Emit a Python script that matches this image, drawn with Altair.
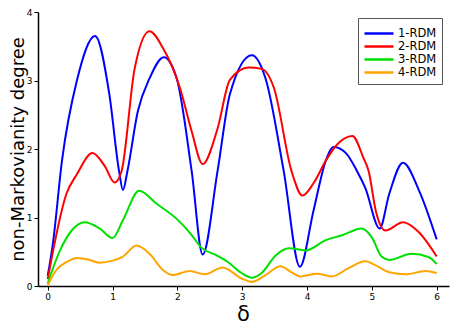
import altair as alt
import pandas as pd

# 1-RDM
x1 = [0.0, 0.08, 0.22, 0.45, 0.73, 0.95, 1.1, 1.16, 1.23, 1.39, 1.57, 1.79, 1.99, 2.22, 2.39, 2.62, 2.81, 3.15, 3.36, 3.64, 3.89, 4.1, 4.29, 4.41, 4.6, 4.77, 4.9, 5.12, 5.27, 5.48, 5.73, 6.0]
y1 = [0.15, 0.62, 1.83, 3.0, 3.65, 2.8, 1.68, 1.40, 1.68, 2.55, 3.03, 3.34, 3.03, 1.68, 0.46, 1.68, 2.8, 3.37, 3.03, 1.68, 0.28, 1.1, 1.83, 2.03, 1.94, 1.68, 1.43, 0.84, 1.35, 1.8, 1.39, 0.68]
# 2-RDM
x2 = [0.0, 0.29, 0.45, 0.69, 0.88, 1.03, 1.14, 1.34, 1.57, 1.78, 2.04, 2.22, 2.39, 2.62, 2.81, 3.1, 3.3, 3.49, 3.76, 3.93, 4.1, 4.29, 4.44, 4.7, 4.87, 4.95, 5.06, 5.21, 5.48, 5.73, 6.0]
y2 = [0.1, 1.35, 1.63, 1.94, 1.75, 1.51, 1.68, 3.17, 3.72, 3.47, 2.89, 2.26, 1.78, 2.3, 3.01, 3.19, 3.17, 2.89, 1.68, 1.32, 1.5, 1.83, 2.04, 2.19, 1.87, 1.68, 1.1, 0.81, 0.93, 0.78, 0.43]
# 3-RDM
x3 = [0.0, 0.19, 0.37, 0.57, 0.8, 1.0, 1.16, 1.41, 1.68, 1.99, 2.19, 2.37, 2.6, 2.78, 2.99, 3.15, 3.3, 3.52, 3.72, 3.98, 4.29, 4.54, 4.84, 5.0, 5.15, 5.27, 5.61, 5.88, 6.0]
y3 = [0.04, 0.52, 0.81, 0.93, 0.84, 0.70, 0.96, 1.39, 1.2, 0.98, 0.78, 0.56, 0.45, 0.35, 0.19, 0.12, 0.19, 0.45, 0.55, 0.52, 0.67, 0.74, 0.84, 0.71, 0.43, 0.38, 0.47, 0.42, 0.32]
# 4-RDM
x4 = [0.0, 0.13, 0.29, 0.45, 0.65, 0.8, 1.0, 1.16, 1.37, 1.57, 1.78, 1.93, 2.19, 2.42, 2.7, 2.99, 3.15, 3.36, 3.59, 3.76, 3.9, 4.15, 4.38, 4.64, 4.9, 5.06, 5.27, 5.52, 5.83, 6.0]
y4 = [0.01, 0.23, 0.35, 0.41, 0.38, 0.34, 0.37, 0.43, 0.59, 0.47, 0.23, 0.16, 0.22, 0.17, 0.27, 0.11, 0.06, 0.16, 0.29, 0.2, 0.14, 0.18, 0.14, 0.26, 0.36, 0.3, 0.2, 0.17, 0.22, 0.19]

series = ["1-RDM", "2-RDM", "3-RDM", "4-RDM"]
colors = ["#0000ff", "#ff0000", "#00e000", "#ffa500"]

rows = []
for name, xs, ys in zip(series, [x1, x2, x3, x4], [y1, y2, y3, y4]):
    for i, (a, b) in enumerate(zip(xs, ys)):
        rows.append({"delta": a, "value": b, "series": name, "order": i})
df = pd.DataFrame(rows)

chart = alt.Chart(df).mark_line(interpolate="monotone", strokeWidth=2, clip=True).encode(
    x=alt.X("delta:Q", scale=alt.Scale(domain=[-0.15, 6.19], nice=False, zero=False),
            axis=alt.Axis(values=[0, 1, 2, 3, 4, 5, 6], format="d", title="δ",
                          titleFontSize=21, titleFontWeight="normal",
                          titleBaseline="alphabetic", titleY=34, titleX=205)),
    y=alt.Y("value:Q", scale=alt.Scale(domain=[0, 4], nice=False),
            axis=alt.Axis(values=[0, 1, 2, 3, 4], format="d", title="non-Markovianity degree",
                          titleFontSize=18, titleFontWeight="normal",
                          titleBaseline="alphabetic", titleX=-15, titleY=137, titleAngle=270)),
    color=alt.Color("series:N", scale=alt.Scale(domain=series, range=colors),
                    legend=alt.Legend(title=" ", titleFontSize=1, titlePadding=3,
                                      orient="none", legendX=320, legendY=6,
                                      symbolType="stroke", symbolSize=841, symbolStrokeWidth=2.5,
                                      labelFontSize=11.5, clipHeight=13, rowPadding=0,
                                      padding=5, labelOffset=3,
                                      fillColor="white", strokeColor="#555555")),
    order="order:Q",
).properties(
    width=411, height=274,
    padding={"left": 30, "top": 4, "right": 1, "bottom": 40},
    autosize=alt.AutoSizeParams(type="none"),
).configure_view(stroke=None).configure_axis(
    grid=False, domainColor="black", domainWidth=1.5, tickColor="black", tickSize=4,
    labelFontSize=9, labelColor="black", titleColor="black", labelFont="DejaVu Sans", titleFont="DejaVu Sans",
).configure_legend(labelFont="DejaVu Sans", labelColor="black")

chart.save("out.html", embed_options={"renderer": "svg", "actions": False})
